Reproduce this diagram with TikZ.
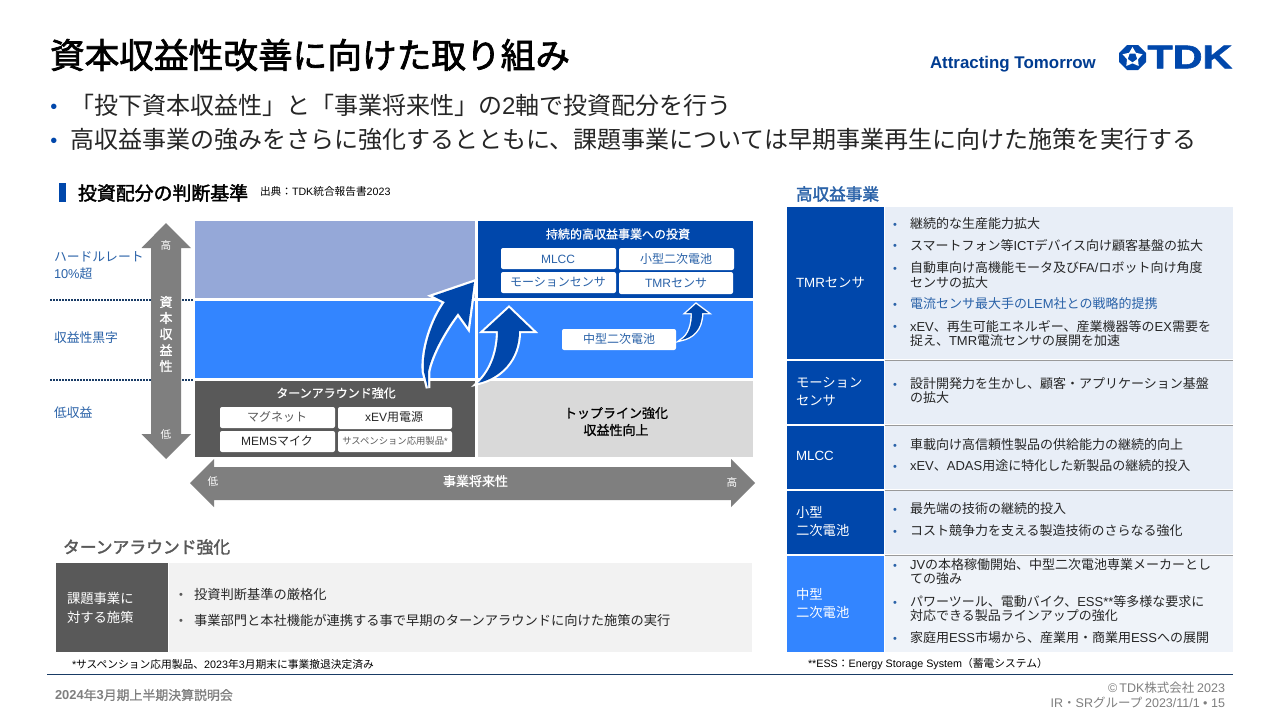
\documentclass[tikz,border=0pt]{standalone}
\usepackage{fontspec}
\setmainfont{Noto Sans CJK JP}[BoldFont={Noto Sans CJK JP},BoldFeatures={FakeBold=0.9}]
\newfontfamily\latfont{Liberation Sans}
\newfontfamily\logofont[FakeBold=1.6]{Liberation Sans Bold}
\newfontfamily\headfont[FakeBold=2]{Noto Sans CJK JP}
\newcommand{\lt}[1]{{\latfont #1}}
\newcommand{\fs}[1]{\fontsize{#1}{#1}\selectfont}
\definecolor{tdkblue}{HTML}{0047AB}
\definecolor{midblue}{HTML}{3385FF}
\definecolor{paleblue}{HTML}{95A8D8}
\definecolor{darkgrey}{HTML}{595959}
\definecolor{arrowgrey}{HTML}{7F7F7F}
\definecolor{lightgrey}{HTML}{D9D9D9}
\definecolor{panel}{HTML}{E8EEF7}
\definecolor{labelblue}{HTML}{2A62A8}
\definecolor{bodytext}{HTML}{262626}
\tikzset{
  every node/.style={inner sep=0pt,outer sep=0pt},
  cell/.style={fill=#1,draw=none},
  chip/.style={fill=white,rounded corners=2pt,draw=none},
  chiptext/.style={font=\fs{12},text=labelblue,anchor=center},
  bul/.style={font=\fs{13},text=bodytext,anchor=west},
  dotbul/.style={font=\latfont\fs{11},text=labelblue,anchor=center,yshift=-1.6pt},
  bigdot/.style={font=\latfont\fs{20},text=tdkblue,anchor=center,yshift=-3.5pt},
  rowlabel/.style={font=\fs{13.33},text=white,anchor=west},
  axislabel/.style={font=\fs{12.8},text=labelblue,anchor=west},
  inarrow/.style={font=\bfseries\fs{13},text=white,anchor=center},
  smallarrow/.style={font=\fs{10.67},text=white,anchor=center},
  bigarrow/.style={fill=tdkblue,preaction={draw=white,line width=#1,line join=miter,miter limit=8}},
  note/.style={font=\fs{10.75},text=black,anchor=west},
  levelline/.style={draw=labelblue!60!black,line width=1.5pt,dash pattern=on 1.5pt off 1.5pt},
}
\begin{document}
\begin{tikzpicture}[x=1pt,y=-1pt]
\useasboundingbox (0,0) rectangle (1281,720);
\fill[white] (0,0) rectangle (1281,720);
% title
\node[anchor=west,font=\headfont\fs{34.67},text=black] (title) at (50,55) {資本収益性改善に向けた取り組み};
\node[anchor=west,font=\latfont\bfseries\fs{16.9},text=tdkblue!85!black] (slogan) at (930,64) {Attracting Tomorrow};
\node[anchor=west,font=\logofont,text=tdkblue] (tdk) at (1147.5,57) {\fs{33}\scalebox{1.25}[1.0]{TDK}};
% logo mark
\fill[tdkblue] (1127,45) -- (1138,45) -- (1146,53) -- (1146,62) -- (1138,70) -- (1127,70) -- (1119,62) -- (1119,53) -- cycle;
\foreach \ang in {0,72,144,216,288}
  \fill[white,shift={(1132.5,57.5)},rotate=\ang] (0,-10.5) -- (3.8,-4) -- (-3.8,-4) -- cycle;
% bullets
\node[bigdot] (b1) at (54,105) {•};
\node[anchor=west,font=\fs{24},text=bodytext] (l1) at (70,105) {「投下資本収益性」と「事業将来性」の\lt{2}軸で投資配分を行う};
\node[bigdot] (b2) at (54,139) {•};
\node[anchor=west,font=\fs{24},text=bodytext] (l2) at (70,139) {高収益事業の強みをさらに強化するとともに、課題事業については早期事業再生に向けた施策を実行する};
% section head
\fill[tdkblue] (59,183) rectangle (66,202);
\node[anchor=west,font=\headfont\fs{18.9},text=black] (crit) at (78,193) {投資配分の判断基準};
\node[anchor=west,font=\fs{10.67},text=black] (src) at (260,191) {出典：\lt{TDK}統合報告書\lt{2023}};
% level lines
\draw[levelline] (50,300) -- (193,300);
\draw[levelline] (50,380) -- (193,380);
% grid
\fill[cell=paleblue] (195,221) rectangle (475,298);
\fill[cell=midblue] (195,301) rectangle (475,378);
\fill[cell=darkgrey] (195,381) rectangle (475,457);
\fill[cell=tdkblue] (478,221) rectangle (753,298);
\fill[cell=midblue] (478,301) rectangle (753,378);
\fill[cell=lightgrey] (478,381) rectangle (753,457);
% axis labels
\node[axislabel] (a1) at (54,257) {ハードルレート};
\node[axislabel] (a2) at (54,274) {\lt{10\%}超};
\node[axislabel] (a3) at (54,338) {収益性黒字};
\node[axislabel] (a4) at (54,413) {低収益};
% vertical arrow
\fill[arrowgrey] (166,223) -- (191,248) -- (181,248) -- (181,434) -- (191,434) -- (166,459) -- (141.5,434) -- (151,434) -- (151,248) -- (141.5,248) -- cycle;
\node[smallarrow] (vh) at (166,245) {高};
\node[smallarrow] (vl) at (166,434) {低};
\node[inarrow] (v1) at (166,302) {資};
\node[inarrow] (v2) at (166,318) {本};
\node[inarrow] (v3) at (166,334) {収};
\node[inarrow] (v4) at (166,350) {益};
\node[inarrow] (v5) at (166,366) {性};
% horizontal arrow
\fill[arrowgrey] (190,483) -- (214,459) -- (214,467) -- (731,467) -- (731,459) -- (755,483) -- (731,507) -- (731,500) -- (214,500) -- (214,507) -- cycle;
\node[smallarrow] (hl) at (213,481) {低};
\node[smallarrow] (hh) at (732,482) {高};
\node[inarrow] (hm) at (475.5,481) {事業将来性};
% chips
\node[anchor=center,font=\bfseries\fs{12},text=white] (inv) at (618,234) {持続的高収益事業への投資};
\fill[chip] (501,248) rectangle (616,269);
\node[chiptext] (c1) at (558,259) {\lt{MLCC}};
\fill[chip] (619,248) rectangle (734,270);
\node[chiptext] (c2) at (676,259) {小型二次電池};
\fill[chip] (501,272) rectangle (616,293);
\node[chiptext] (c3) at (558,282) {モーションセンサ};
\fill[chip] (619,272) rectangle (733,294);
\node[chiptext] (c4) at (676,283) {\lt{TMR}センサ};
\fill[chip] (562,329) rectangle (676,350);
\node[chiptext] (c5) at (619,339) {中型二次電池};
\node[anchor=center,font=\bfseries\fs{12},text=white] (tt) at (336,393) {ターンアラウンド強化};
\fill[chip] (220,407) rectangle (335,428);
\node[chiptext,text=darkgrey] (c6) at (277,417) {マグネット};
\fill[chip] (338,407) rectangle (452,429);
\node[chiptext,text=bodytext] (c7) at (394,417) {\lt{xEV}用電源};
\fill[chip] (220,431) rectangle (335,452);
\node[chiptext,text=bodytext] (c8) at (277,441) {\lt{MEMS}マイク};
\fill[chip] (338,431) rectangle (452,452);
\node[chiptext,text=darkgrey,font=\fs{9.33}] (c9) at (395,441) {サスペンション応用製品\lt{*}};
\node[anchor=center,font=\bfseries\fs{13},text=black] (top) at (616,413) {トップライン強化};
\node[anchor=center,font=\bfseries\fs{13},text=black] (topb) at (616,430) {収益性向上};
% curved arrows
\path[bigarrow=4.6pt] (474,282) -- (433,296) -- (445,302)
  .. controls (432,320) and (422,350) .. (424,372) -- (428,388) -- (428,372)
  .. controls (431,355) and (445,330) .. (458,313) -- (468,327) -- cycle;
\path[bigarrow=4.2pt] (509,308) -- (484,331) -- (498,331)
  .. controls (498,350) and (492,370) .. (478,383)
  .. controls (500,378) and (519,360) .. (519,331) -- (533,331) -- cycle;
\path[bigarrow=2.8pt] (696,304) -- (686,313) -- (692,313)
  .. controls (692,325) and (689,335) .. (681,340)
  .. controls (692,338) and (702,330) .. (702,313) -- (708,313) -- cycle;
% high-return table
\node[anchor=west,font=\headfont\fs{16.6},text=labelblue] (hr) at (796,194) {高収益事業};
\fill[cell=panel] (885,207) rectangle (1233,359);
\fill[cell=panel] (885,361) rectangle (1233,424);
\fill[cell=panel] (885,425.5) rectangle (1233,489);
\fill[cell=panel] (885,490.5) rectangle (1233,554);
\fill[cell=panel!70!white] (885,555.5) rectangle (1233,652);
\fill[cell=tdkblue] (787,207) rectangle (884,359);
\fill[cell=tdkblue] (787,361) rectangle (884,424);
\fill[cell=tdkblue] (787,425.5) rectangle (884,489);
\fill[cell=tdkblue] (787,490.5) rectangle (884,554);
\fill[cell=midblue] (787,555.5) rectangle (884,652);
\foreach \yy in {360,425,490,555} \draw[color=black!40,line width=1pt] (885,\yy) -- (1233,\yy);
\node[rowlabel] (r1) at (796,283) {\lt{TMR}センサ};
\node[rowlabel] (r2) at (796,383) {モーション};
\node[rowlabel] (r2b) at (796,401) {センサ};
\node[rowlabel] (r3) at (796,456) {\lt{MLCC}};
\node[rowlabel] (r4) at (796,512) {小型};
\node[rowlabel] (r4b) at (796,530) {二次電池};
\node[rowlabel] (r5) at (796,594) {中型};
\node[rowlabel] (r5b) at (796,612) {二次電池};
\foreach \yy in {224,245,268,304,326,384,445,466,509,531,565,602,638}
  \node[dotbul] at (895,\yy) {•};
\node[bul] (t1) at (910,224) {継続的な生産能力拡大};
\node[bul] (t2) at (910,245) {スマートフォン等\lt{ICT}デバイス向け顧客基盤の拡大};
\node[bul] (t3) at (910,268) {自動車向け高機能モータ及び\lt{FA/}ロボット向け角度};
\node[bul] (t3b) at (910,283) {センサの拡大};
\node[bul,text=labelblue] (t4) at (910,304) {電流センサ最大手の\lt{LEM}社との戦略的提携};
\node[bul] (t5) at (910,326) {\lt{xEV}、再生可能エネルギー、産業機器等の\lt{EX}需要を};
\node[bul] (t5b) at (910,341) {捉え、\lt{TMR}電流センサの展開を加速};
\node[bul] (t6) at (910,384) {設計開発力を生かし、顧客・アプリケーション基盤};
\node[bul] (t6b) at (910,398) {の拡大};
\node[bul] (t7) at (910,445) {車載向け高信頼性製品の供給能力の継続的向上};
\node[bul] (t8) at (910,466) {\lt{xEV}、\lt{ADAS}用途に特化した新製品の継続的投入};
\node[bul] (t9) at (910,509) {最先端の技術の継続的投入};
\node[bul] (t10) at (910,531) {コスト競争力を支える製造技術のさらなる強化};
\node[bul] (t11) at (910,565) {\lt{JV}の本格稼働開始、中型二次電池専業メーカーとし};
\node[bul] (t11b) at (910,579) {ての強み};
\node[bul] (t12) at (910,602) {パワーツール、電動バイク、\lt{ESS**}等多様な要求に};
\node[bul] (t12b) at (910,616) {対応できる製品ラインアップの強化};
\node[bul] (t13) at (910,638) {家庭用\lt{ESS}市場から、産業用・商業用\lt{ESS}への展開};
% turnaround panel
\node[anchor=west,font=\headfont\fs{16.8},text=darkgrey] (ta) at (63,547) {ターンアラウンド強化};
\fill[cell=darkgrey] (56,563) rectangle (168,652);
\fill[color=black!5] (169,563) rectangle (752,652);
\node[rowlabel] (p1) at (67,598) {課題事業に};
\node[rowlabel] (p2) at (67,617) {対する施策};
\node[dotbul,text=darkgrey] (pb1) at (181,594) {•};
\node[dotbul,text=darkgrey] (pb2) at (181,620) {•};
\node[bul,font=\fs{13.25}] (p3) at (194,594) {投資判断基準の厳格化};
\node[bul,font=\fs{13.25}] (p4) at (194,620) {事業部門と本社機能が連携する事で早期のターンアラウンドに向けた施策の実行};
% footnotes and footer
\node[note] (n1) at (72,664) {\lt{*}サスペンション応用製品、\lt{2023}年\lt{3}月期末に事業撤退決定済み};
\node[note] (n2) at (808,664) {\lt{**ESS}：\lt{Energy Storage System}（蓄電システム）};
\draw[color=labelblue!60!black,line width=1pt] (47,674) -- (1233,674);
\node[anchor=west,font=\bfseries\fs{12.9},text=arrowgrey] (f1) at (55,695) {\lt{2024}年\lt{3}月期上半期決算説明会};
\node[anchor=east,font=\fs{12.5},text=arrowgrey] (f2) at (1225,688) {\lt{©\,TDK}株式会社 \lt{2023}};
\node[anchor=east,font=\fs{12.5},text=arrowgrey] (f3) at (1225,703) {\lt{IR}・\lt{SR}グループ \lt{2023/11/1 • 15}};
\end{tikzpicture}
\end{document}
